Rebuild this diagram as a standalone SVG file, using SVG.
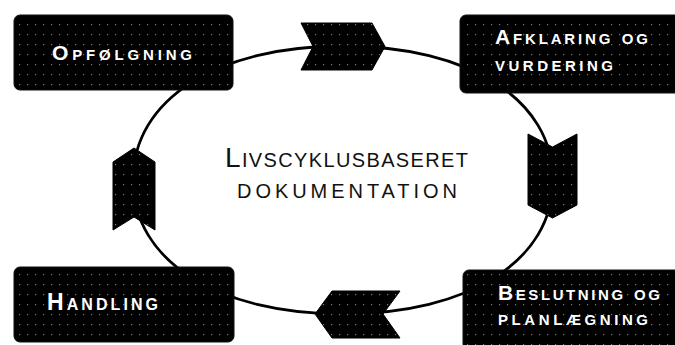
<svg xmlns="http://www.w3.org/2000/svg" width="675" height="345" viewBox="0 0 675 345">
  <defs>
    <pattern id="dots" width="8" height="10" patternUnits="userSpaceOnUse">
      <rect width="8" height="10" fill="#000"/>
      <rect x="3" y="4" width="1.2" height="1.2" fill="#7a7a7a"/>
    </pattern>
    <style>
      .box { fill: url(#dots); stroke: #111; stroke-width: 1; }
      .chev { fill: url(#dots); stroke: #000; stroke-width: 1; }
      .lbl { font-family: "Liberation Sans", Arial, sans-serif; font-variant: small-caps; font-weight: bold; fill: #fff; font-size: 21px; }
      .center { font-family: "Liberation Sans", Arial, sans-serif; font-variant: small-caps; fill: #111; font-size: 28px; }
      .ring { fill: none; stroke: #000; stroke-width: 2.8; }
    </style>
  </defs>
  <rect width="675" height="345" fill="#fff"/>

  <g id="connectors">
    <path class="ring" d="M343,46 C469,46 553,99.6 553,180 C553,260.4 469,314 343,314 C217,314 133,260.4 133,180 C133,99.6 217,46 343,46 Z"/>
  </g>

  <g id="node-opfoelgning">
    <rect class="box" x="14" y="15" width="219" height="75" rx="6"/>
    <text class="lbl" x="52" y="60" textLength="140" lengthAdjust="spacing">Opfølgning</text>
  </g>

  <g id="node-afklaring">
    <rect class="box" x="460" y="15" width="222" height="78" rx="6"/>
    <text class="lbl" x="495" y="44" textLength="153" lengthAdjust="spacing">Afklaring og</text>
    <text class="lbl" x="495" y="71" textLength="118" lengthAdjust="spacing">vurdering</text>
  </g>

  <g id="node-beslutning">
    <rect class="box" x="463" y="270" width="220" height="80" rx="6"/>
    <text class="lbl" x="498" y="300" textLength="162" lengthAdjust="spacing">Beslutning og</text>
    <text class="lbl" x="498" y="325" textLength="150" lengthAdjust="spacing">planlægning</text>
  </g>

  <g id="node-handling">
    <rect class="box" x="14" y="267" width="220" height="75" rx="6"/>
    <text class="lbl" x="47" y="310" textLength="111" lengthAdjust="spacing" style="font-size:23px">Handling</text>
  </g>

  <g id="node-center">
    <text class="center" x="225" y="167" textLength="243" lengthAdjust="spacing">Livscyklusbaseret</text>
    <text class="center" x="237" y="198" textLength="220" lengthAdjust="spacing">dokumentation</text>
  </g>

  <g id="chevron-top">
    <polygon class="chev" points="301,23 372,23 385,46.5 372,70 301,70 313,46.5"/>
  </g>
  <g id="chevron-right">
    <polygon class="chev" points="528,134 552.5,147 577,134 577,205 552.5,218 528,205"/>
  </g>
  <g id="chevron-bottom">
    <polygon class="chev" points="332,291 400,291 383,314 400,338 332,338 315,314"/>
  </g>
  <g id="chevron-left">
    <polygon class="chev" points="113,162 134,148 155,162 155,230 134,217 113,230"/>
  </g>
</svg>
